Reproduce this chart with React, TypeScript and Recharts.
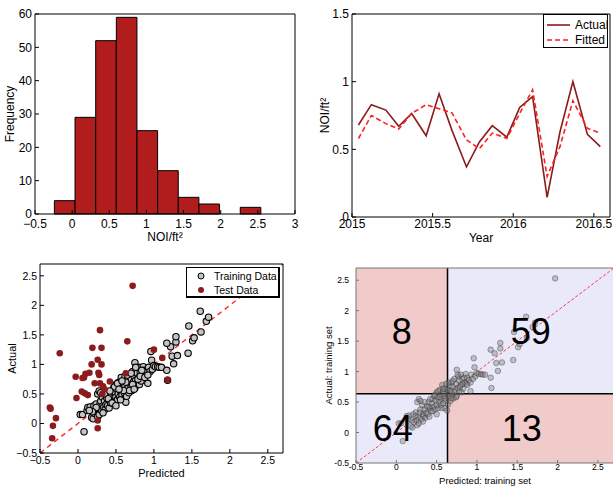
import React from "react";
import {
  ComposedChart,
  ScatterChart,
  Bar,
  Line,
  Scatter,
  XAxis,
  YAxis,
  ReferenceLine,
  ReferenceArea,
  Legend,
  Label,
} from "recharts";

const FONT = '"Liberation Sans", Arial, Helvetica, sans-serif';

// histogram of NOI/ft2
const binCenters = [-0.1, 0.178, 0.456, 0.734, 1.012, 1.29, 1.568, 1.846, 2.124, 2.402];
const binCounts = [4, 29, 52, 59, 25, 13, 5, 3, 0, 2];
const histXTicks = [-0.5, 0, 0.5, 1, 1.5, 2, 2.5, 3];
const histYTicks = [0, 10, 20, 30, 40, 50, 60];

// monthly actual vs fitted
const monthTimes = [
  2015.04, 2015.12, 2015.21, 2015.29, 2015.37, 2015.46, 2015.54, 2015.62, 2015.71, 2015.79,
  2015.87, 2015.96, 2016.04, 2016.12, 2016.21, 2016.29, 2016.37, 2016.46, 2016.54,
];
const actualNoi = [0.68, 0.83, 0.79, 0.67, 0.765, 0.6, 0.91, 0.64, 0.37, 0.555, 0.675, 0.59, 0.81, 0.89, 0.145, 0.63, 1.0, 0.61, 0.52];
const fittedNoi = [0.58, 0.75, 0.69, 0.65, 0.765, 0.83, 0.8, 0.77, 0.57, 0.505, 0.62, 0.58, 0.765, 0.94, 0.3, 0.52, 0.86, 0.655, 0.62];
const yearTicks = [2015, 2015.5, 2016, 2016.5];
const noiTicks = [0, 0.5, 1, 1.5];

// predicted vs actual, training set
const trainPred = [
  0.08, 0.03, 0.06, 0.12, 0.13, 0.16, 0.18, 0.2, 0.22, 0.21, 0.24, 0.25, 0.26, 0.27, 0.28, 0.29, 0.3, 0.31, 0.32, 0.33,
  0.34, 0.35, 0.36, 0.37, 0.38, 0.39, 0.4, 0.41, 0.42, 0.43, 0.44, 0.45, 0.46, 0.47, 0.48, 0.49, 0.5, 0.5, 0.51, 0.52,
  0.53, 0.54, 0.55, 0.55, 0.56, 0.57, 0.58, 0.58, 0.59, 0.6, 0.6, 0.61, 0.62, 0.62, 0.63, 0.64, 0.64, 0.65, 0.66, 0.66,
  0.67, 0.68, 0.69, 0.7, 0.7, 0.71, 0.72, 0.73, 0.74, 0.75, 0.75, 0.76, 0.77, 0.78, 0.78, 0.8, 0.8, 0.81, 0.82, 0.83,
  0.85, 0.86, 0.87, 0.88, 0.9, 0.92, 0.93, 0.95, 0.96, 0.97, 0.98, 1.0, 1.02, 1.05, 1.07, 1.1, 1.17, 1.18, 1.22, 1.17,
  1.24, 1.26, 1.29, 1.29, 1.31, 1.45, 1.46, 1.51, 1.53, 1.62, 1.61, 1.69, 1.72, 0.35, 0.4, 0.45, 0.48, 0.52, 0.56, 0.6,
  0.63, 0.65, 0.68, 0.7, 0.72, 0.74, 0.76, 0.79, 0.82, 0.84, 0.88, 0.26, 0.28, 0.3, 0.24, 0.19, 0.15, 0.33, 0.42, 0.5,
  0.54, 0.58, 0.92,
];
const trainActual = [
  -0.14, 0.15, 0.15, 0.22, 0.27, 0.28, 0.1, 0.08, 0.17, 0.3, 0.33, 0.2, 0.12, 0.25, 0.15, 0.33, 0.38, 0.22, 0.45, 0.3,
  0.27, 0.38, 0.24, 0.32, 0.43, 0.3, 0.5, 0.26, 0.4, 0.35, 0.48, 0.55, 0.42, 0.6, 0.38, 0.52, 0.45, 0.66, 0.58, 0.4,
  0.5, 0.7, 0.62, 0.45, 0.55, 0.78, 0.68, 0.48, 0.6, 0.72, 0.4, 0.52, 0.64, 0.8, 0.36, 0.57, 0.46, 0.7, 0.76, 0.6,
  0.52, 0.68, 0.82, 0.62, 0.75, 0.56, 0.88, 0.7, 0.8, 1.03, 0.6, 0.73, 0.92, 0.68, 0.85, 0.78, 0.95, 0.66, 0.88, 0.72,
  0.82, 0.96, 0.8, 0.9, 0.86, 0.68, 0.95, 0.88, 1.22, 1.07, 0.92, 0.98, 0.96, 0.96, 0.95, 0.95, 0.9, 0.73, 1.3, 1.36,
  1.14, 1.01, 1.38, 1.47, 1.15, 1.19, 1.65, 1.4, 1.45, 1.55, 1.9, 1.73, 1.8, 0.5, 0.42, 0.35, 0.62, 0.68, 0.4, 0.56,
  0.7, 0.82, 0.56, 0.85, 0.66, 0.58, 0.95, 0.75, 0.8, 0.9, 0.78, 0.5, 0.55, 0.52, 0.27, 0.2, 0.22, 0.18, 0.55, 0.3,
  0.58, 0.72, 0.82,
];

// predicted vs actual, test set
const testPred = [
  0.72, 0.29, 0.65, -0.24, 0.19, 0.31, 0.26, 0.18, 0.31, 0.15, 0.1, 0.08, 0.06, -0.03, 0.27, 0.28, 0.42, 0.22, 0.29,
  0.33, 0.35, 0.05, 0.09, 0.13, -0.02, -0.37, -0.36, -0.29, -0.33, -0.34, 0.26, 0.26, 0.63, 1.0, 1.11, 1.18, 0.32,
];
const testActual = [
  2.33, 1.58, 1.39, 1.19, 1.28, 1.28, 1.08, 1.0, 1.0, 0.86, 0.84, 0.78, 0.77, 0.79, 0.86, 0.82, 0.71, 0.68, 0.68,
  0.63, 0.58, 0.54, 0.51, 0.48, 0.43, 0.27, 0.25, 0.09, -0.04, -0.25, 0.05, -0.08, 0.85, 1.25, 1.11, 0.74, 0.5,
];

// extra training point only in the quadrant plot
const extraPred = [1.97];
const extraActual = [2.53];

const scatterTicks = [-0.5, 0, 0.5, 1, 1.5, 2, 2.5];
const THRESHOLD = 0.635;
const quadrantCounts = { topLeft: 8, topRight: 59, bottomLeft: 64, bottomRight: 13 };

const histData = binCenters.map((bin, i) => ({ bin, count: binCounts[i] }));
const seriesData = monthTimes.map((t, i) => ({ t, actual: actualNoi[i], fitted: fittedNoi[i] }));
const trainPoints = trainPred.map((x, i) => ({ x, y: trainActual[i] }));
const testPoints = testPred.map((x, i) => ({ x, y: testActual[i] }));
const quadPoints = [...trainPoints, ...extraPred.map((x, i) => ({ x, y: extraActual[i] }))];

const fmt = (v: number) => (v < 0 ? "\u2212" + Math.abs(v) : String(v));
const fmtDash = (v: number) => String(v);

function vTitle(text: string, x: number, size: number) {
  return (props: any) => {
    const vb = props.viewBox;
    const cy = vb.y + vb.height / 2;
    return (
      <text
        x={x}
        y={cy}
        transform={`rotate(-90 ${x} ${cy})`}
        textAnchor="middle"
        dominantBaseline="central"
        fontSize={size}
        fontFamily={FONT}
        fill="#000"
      >
        {text}
      </text>
    );
  };
}

function hTitle(text: string, baseline: number, size: number) {
  return (props: any) => {
    const vb = props.viewBox;
    return (
      <text x={vb.x + vb.width / 2} y={baseline} textAnchor="middle" fontSize={size} fontFamily={FONT} fill="#000">
        {text}
      </text>
    );
  };
}

const tickStyle = (size: number) => ({ fill: "#000", fontSize: size, fontFamily: FONT });

const lineDash: Record<string, string | undefined> = { Actual: undefined, Fitted: "5 3" };
const lineOrder = ["Actual", "Fitted"];

function LinesLegend(props: any) {
  const items = [...(props.payload || [])].sort(
    (a: any, b: any) => lineOrder.indexOf(a.value) - lineOrder.indexOf(b.value)
  );
  return (
    <div
      style={{
        width: 65,
        height: 34,
        boxSizing: "border-box",
        border: "1px solid #000",
        background: "#fff",
        fontFamily: FONT,
        fontSize: 12,
        paddingTop: 2,
        whiteSpace: "nowrap",
      }}
    >
      {items.map((item: any) => (
        <div key={item.value} style={{ display: "flex", alignItems: "center", height: 15 }}>
          <svg width={31} height={8} style={{ display: "block", flex: "none" }}>
            <line x1={3} x2={26} y1={4} y2={4} stroke={item.color} strokeWidth={1.6} strokeDasharray={lineDash[item.value]} />
          </svg>
          <span>{item.value}</span>
        </div>
      ))}
    </div>
  );
}

const markerFill: Record<string, { fill: string; stroke: string }> = {
  "Training Data": { fill: "#c4c4c4", stroke: "#000" },
  "Test Data": { fill: "#8e1b1b", stroke: "none" },
};
const pointOrder = ["Training Data", "Test Data"];

function PointsLegend(props: any) {
  const items = [...(props.payload || [])].sort(
    (a: any, b: any) => pointOrder.indexOf(a.value) - pointOrder.indexOf(b.value)
  );
  return (
    <div
      style={{
        width: 94,
        height: 31,
        boxSizing: "border-box",
        border: "1px solid #000",
        borderWidth: "1px 2px 2px 1px",
        background: "#fff",
        fontFamily: FONT,
        fontSize: 10.5,
        paddingTop: 1,
        whiteSpace: "nowrap",
        overflow: "hidden",
      }}
    >
      {items.map((item: any) => (
        <div key={item.value} style={{ display: "flex", alignItems: "center", height: 14 }}>
          <svg width={27} height={10} style={{ display: "block", flex: "none" }}>
            <circle cx={14} cy={5} r={3} fill={markerFill[item.value]?.fill} stroke={markerFill[item.value]?.stroke} strokeWidth={1} />
          </svg>
          <span>{item.value}</span>
        </div>
      ))}
    </div>
  );
}

function HistogramPanel() {
  return (
    <ComposedChart width={300} height={245} data={histData} margin={{ top: 13, right: 4, bottom: 0, left: 0 }}>
      <XAxis
        xAxisId="b"
        type="number"
        dataKey="bin"
        domain={[-0.5, 3]}
        ticks={histXTicks}
        interval={0}
        allowDataOverflow
        height={31}
        tickSize={-4}
        tickMargin={9}
        stroke="#000"
        tick={tickStyle(12)}
        tickFormatter={fmt}
      >
        <Label content={hTitle("NOI/ft\u00b2", 241, 12)} />
      </XAxis>
      <XAxis xAxisId="t" orientation="top" type="number" domain={[-0.5, 3]} ticks={histXTicks} height={1} tickSize={-4} tick={false} stroke="#000" />
      <YAxis
        yAxisId="l"
        type="number"
        domain={[0, 60]}
        ticks={histYTicks}
        interval={0}
        width={35}
        tickSize={-4}
        tickMargin={7}
        stroke="#000"
        tick={tickStyle(12)}
      >
        <Label content={vTitle("Frequency", 10, 12)} />
      </YAxis>
      <YAxis yAxisId="r" orientation="right" type="number" domain={[0, 60]} ticks={histYTicks} width={1} tickSize={-4} tick={false} stroke="#000" />
      <Bar
        xAxisId="b"
        yAxisId="l"
        dataKey="count"
        fill="#b11c1c"
        stroke="#000"
        strokeWidth={1}
        barSize={20.6}
        isAnimationActive={false}
      />
    </ComposedChart>
  );
}

function SeriesPanel() {
  return (
    <ComposedChart width={313} height={245} data={seriesData} margin={{ top: 13, right: 2, bottom: 0, left: 0 }}>
      <XAxis
        xAxisId="b"
        type="number"
        dataKey="t"
        domain={[2015, 2016.6]}
        ticks={yearTicks}
        interval={0}
        allowDataOverflow
        height={28}
        tickSize={-4}
        tickMargin={6}
        stroke="#000"
        tick={tickStyle(12)}
      >
        <Label content={hTitle("Year", 242, 12)} />
      </XAxis>
      <XAxis xAxisId="t" orientation="top" type="number" domain={[2015, 2016.6]} ticks={yearTicks} height={1} tickSize={-4} tick={false} stroke="#000" />
      <YAxis
        yAxisId="l"
        type="number"
        domain={[0, 1.5]}
        ticks={noiTicks}
        interval={0}
        width={52}
        tickSize={-4}
        tickMargin={7}
        stroke="#000"
        tick={tickStyle(12)}
      >
        <Label content={vTitle("NOI/ft\u00b2", 25, 12)} />
      </YAxis>
      <YAxis yAxisId="r" orientation="right" type="number" domain={[0, 1.5]} ticks={noiTicks} width={1} tickSize={-4} tick={false} stroke="#000" />
      <Line
        xAxisId="b"
        yAxisId="l"
        name="Actual"
        dataKey="actual"
        stroke="#8b1a1a"
        strokeWidth={1.6}
        dot={false}
        isAnimationActive={false}
      />
      <Line
        xAxisId="b"
        yAxisId="l"
        name="Fitted"
        dataKey="fitted"
        stroke="#ff2020"
        strokeWidth={1.6}
        strokeDasharray="5 3"
        dot={false}
        isAnimationActive={false}
      />
      <Legend
        layout="vertical"
        align="center"
        verticalAlign="middle"
        content={<LinesLegend />}
        wrapperStyle={{ position: "absolute", left: 243, top: 14, width: 65, height: 34 }}
      />
    </ComposedChart>
  );
}

function PredictedPanel() {
  return (
    <ScatterChart width={300} height={241} margin={{ top: 18, right: 16, bottom: 0, left: 0 }}>
      <XAxis
        xAxisId="b"
        type="number"
        dataKey="x"
        domain={[-0.5, 2.7]}
        ticks={scatterTicks}
        interval={0}
        allowDataOverflow
        height={33}
        tickSize={-4}
        tickMargin={8}
        stroke="#000"
        tick={tickStyle(10.5)}
        tickFormatter={fmt}
      >
        <Label content={hTitle("Predicted", 232, 11)} />
      </XAxis>
      <XAxis xAxisId="t" orientation="top" type="number" domain={[-0.5, 2.7]} ticks={scatterTicks} height={1} tickSize={-4} tick={false} stroke="#000" />
      <YAxis
        yAxisId="l"
        type="number"
        dataKey="y"
        domain={[-0.5, 2.7]}
        ticks={scatterTicks}
        interval={0}
        allowDataOverflow
        width={40}
        tickSize={-4}
        tickMargin={7}
        stroke="#000"
        tick={tickStyle(10.5)}
        tickFormatter={fmt}
      >
        <Label content={vTitle("Actual", 12, 11)} />
      </YAxis>
      <YAxis yAxisId="r" orientation="right" type="number" domain={[-0.5, 2.7]} ticks={scatterTicks} width={1} tickSize={-4} tick={false} stroke="#000" />
      <ReferenceLine
        xAxisId="b"
        yAxisId="l"
        segment={[
          { x: -0.5, y: -0.5 },
          { x: 2.7, y: 2.7 },
        ]}
        stroke="#ff2a2a"
        strokeWidth={1.4}
        strokeDasharray="5 4"
      />
      <Scatter
        xAxisId="b"
        yAxisId="l"
        name="Training Data"
        data={trainPoints}
        fill="#c4c4c4"
        isAnimationActive={false}
        shape={(p: any) => <circle cx={p.cx} cy={p.cy} r={3.2} fill="#c4c4c4" stroke="#000" strokeWidth={1.1} />}
      />
      <Scatter
        xAxisId="b"
        yAxisId="l"
        name="Test Data"
        data={testPoints}
        fill="#8e1b1b"
        isAnimationActive={false}
        shape={(p: any) => <circle cx={p.cx} cy={p.cy} r={3.3} fill="#8e1b1b" />}
      />
      <Legend
        layout="vertical"
        align="center"
        verticalAlign="middle"
        content={<PointsLegend />}
        wrapperStyle={{ position: "absolute", left: 186, top: 22, width: 94, height: 31 }}
      />
    </ScatterChart>
  );
}

function QuadrantPanel() {
  const pink = "#f1caca";
  const lav = "#e9e9fa";
  const big = { fontSize: 36, fill: "#000", fontFamily: FONT };
  return (
    <ScatterChart width={315} height={241} margin={{ top: 22, right: 0, bottom: 0, left: 0 }}>
      <XAxis
        xAxisId="b"
        type="number"
        dataKey="x"
        domain={[-0.5, 2.7]}
        ticks={scatterTicks}
        interval={0}
        allowDataOverflow
        height={23}
        tickSize={-3}
        tickMargin={4}
        stroke="#777"
        tick={tickStyle(8.5)}
        tickFormatter={fmtDash}
      >
        <Label content={hTitle("Predicted: training set", 239, 9.5)} />
      </XAxis>
      <XAxis xAxisId="t" orientation="top" type="number" domain={[-0.5, 2.7]} ticks={scatterTicks} height={1} tickSize={-3} tick={false} stroke="#777" />
      <YAxis
        yAxisId="l"
        type="number"
        dataKey="y"
        domain={[-0.5, 2.7]}
        ticks={scatterTicks}
        interval={0}
        allowDataOverflow
        width={56}
        tickSize={-3}
        tickMargin={10}
        stroke="#777"
        tick={tickStyle(8.5)}
        tickFormatter={fmtDash}
      >
        <Label content={vTitle("Actual: training set", 28, 9.5)} />
      </YAxis>
      <YAxis yAxisId="r" orientation="right" type="number" domain={[-0.5, 2.7]} ticks={scatterTicks} width={1} tickSize={-3} tick={false} stroke="#777" />
      <ReferenceArea xAxisId="b" yAxisId="l" x1={-0.5} x2={THRESHOLD} y1={THRESHOLD} y2={2.7} fill={pink} fillOpacity={1} stroke="none">
        <Label value={String(quadrantCounts.topLeft)} position="center" {...big} />
      </ReferenceArea>
      <ReferenceArea xAxisId="b" yAxisId="l" x1={THRESHOLD} x2={2.7} y1={THRESHOLD} y2={2.7} fill={lav} fillOpacity={1} stroke="none">
        <Label value={String(quadrantCounts.topRight)} position="center" {...big} />
      </ReferenceArea>
      <ReferenceArea xAxisId="b" yAxisId="l" x1={-0.5} x2={THRESHOLD} y1={-0.5} y2={THRESHOLD} fill={lav} fillOpacity={1} stroke="none">
        <Label value={String(quadrantCounts.bottomLeft)} position="center" dx={-9} {...big} />
      </ReferenceArea>
      <ReferenceArea xAxisId="b" yAxisId="l" x1={THRESHOLD} x2={2.7} y1={-0.5} y2={THRESHOLD} fill={pink} fillOpacity={1} stroke="none">
        <Label value={String(quadrantCounts.bottomRight)} position="center" dx={-9} {...big} />
      </ReferenceArea>
      <ReferenceLine
        xAxisId="b"
        yAxisId="l"
        segment={[
          { x: -0.5, y: -0.5 },
          { x: 2.7, y: 2.7 },
        ]}
        stroke="#ff3a4a"
        strokeWidth={1}
        strokeDasharray="3 2"
      />
      <Scatter
        xAxisId="b"
        yAxisId="l"
        name="Training set"
        data={quadPoints}
        fill="#8a8a8a"
        isAnimationActive={false}
        shape={(p: any) => (
          <circle
            cx={p.cx}
            cy={p.cy}
            r={2.8}
            fill="#7a7a7a"
            fillOpacity={0.4}
            stroke="#333"
            strokeOpacity={0.45}
            strokeWidth={0.9}
          />
        )}
      />
      <ReferenceLine xAxisId="b" yAxisId="l" x={THRESHOLD} stroke="#000" strokeWidth={1.5} />
      <ReferenceLine xAxisId="b" yAxisId="l" y={THRESHOLD} stroke="#000" strokeWidth={1.5} />
    </ScatterChart>
  );
}

export default function App() {
  return (
    <div
      style={{
        position: "absolute",
        left: 0,
        top: 0,
        width: 613,
        height: 486,
        overflow: "hidden",
        background: "#fff",
        fontFamily: FONT,
      }}
    >
      <div style={{ position: "absolute", left: 0, top: 0 }}>
        <HistogramPanel />
      </div>
      <div style={{ position: "absolute", left: 300, top: 0 }}>
        <SeriesPanel />
      </div>
      <div style={{ position: "absolute", left: 0, top: 245 }}>
        <PredictedPanel />
      </div>
      <div style={{ position: "absolute", left: 300, top: 245 }}>
        <QuadrantPanel />
      </div>
    </div>
  );
}
